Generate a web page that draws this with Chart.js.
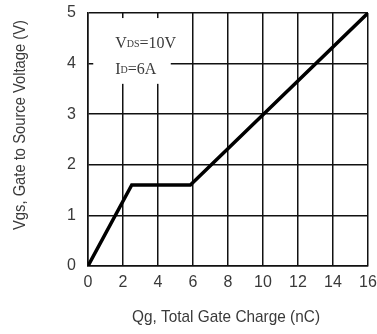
<!DOCTYPE html>
<html>
<head>
<meta charset="utf-8">
<script src="https://cdn.jsdelivr.net/npm/chart.js@4/dist/chart.umd.min.js"></script>
<style>
html,body{margin:0;padding:0;background:#fff;}
#wrap{width:377px;height:334px;}
</style>
</head>
<body>
<div id="wrap"><canvas id="c" width="377" height="334"></canvas></div>
<script>
const gateCharge = [0, 2.5, 5.85, 16];
const gateVoltage = [0, 1.6, 1.6, 5];
const xTicks = [0, 2, 4, 6, 8, 10, 12, 14, 16];
const yTicks = [0, 1, 2, 3, 4, 5];
const xTitle = 'Qg, Total Gate Charge (nC)';
const yTitle = 'Vgs, Gate to Source Voltage (V)';
const noteLines = [['V', 'DS', '=10V'], ['I', 'D', '=6A']];

const FONT = '"Liberation Sans", Arial, sans-serif';
const TXT = '#3a3a3a';

const notePlugin = {
  id: 'note',
  beforeDatasetsDraw(chart) {
    const ctx = chart.ctx, xs = chart.scales.x, ys = chart.scales.y;
    const x0 = xs.getPixelForValue(0.3), x1 = xs.getPixelForValue(4.73);
    const y0 = ys.getPixelForValue(4.9), y1 = ys.getPixelForValue(3.6);
    ctx.save();
    ctx.fillStyle = '#fff';
    ctx.fillRect(x0, y0, x1 - x0, y1 - y0);
    ctx.fillStyle = TXT;
    ctx.textBaseline = 'alphabetic';
    const bases = [ys.getPixelForValue(4.3), ys.getPixelForValue(3.8)];
    const startX = xs.getPixelForValue(1.55);
    noteLines.forEach((parts, i) => {
      let x = startX;
      ctx.font = '16px "Liberation Serif", "Times New Roman", serif';
      ctx.fillText(parts[0], x, bases[i]);
      x += ctx.measureText(parts[0]).width;
      ctx.font = '10px "Liberation Serif", "Times New Roman", serif';
      ctx.fillText(parts[1], x, bases[i] - 1);
      x += ctx.measureText(parts[1]).width;
      ctx.font = '16px "Liberation Serif", "Times New Roman", serif';
      ctx.fillText(parts[2], x, bases[i]);
    });
    ctx.restore();
  }
};

function condensedText(ctx, text, cx, cy, targetW, rot) {
  ctx.save();
  ctx.font = '17px ' + FONT;
  ctx.fillStyle = TXT;
  ctx.textAlign = 'center';
  ctx.textBaseline = 'middle';
  const w = ctx.measureText(text).width;
  ctx.translate(cx, cy);
  if (rot) ctx.rotate(-Math.PI / 2);
  ctx.scale(targetW / w, 1);
  ctx.fillText(text, 0, 0);
  ctx.restore();
}

const titlePlugin = {
  id: 'titles',
  afterDraw(chart) {
    const ctx = chart.ctx;
    condensedText(ctx, xTitle, 226, 317, 188, false);
    condensedText(ctx, yTitle, 20, 125, 210, true);
  }
};

new Chart(document.getElementById('c'), {
  type: 'scatter',
  data: {
    datasets: [{
      data: gateCharge.map((q, i) => ({x: q, y: gateVoltage[i]})),
      showLine: true,
      borderColor: '#000',
      borderWidth: 3.5,
      pointRadius: 0,
      fill: false,
      tension: 0
    }]
  },
  options: {
    responsive: false,
    animation: false,
    layout: {padding: {top: 13, right: 9, left: 0, bottom: 0}},
    plugins: {legend: {display: false}, tooltip: {enabled: false}},
    scales: {
      x: {
        type: 'linear', min: 0, max: 16,
        afterBuildTicks: s => { s.ticks = xTicks.map(v => ({value: v})); },
        afterFit: s => { s.height = 68; s.paddingLeft = 0; s.paddingRight = 0; },
        grid: {color: '#111', lineWidth: 1.5, drawTicks: false},
        border: {color: '#111', width: 1.5},
        ticks: {color: TXT, font: {family: FONT, size: 16}, padding: 7, maxRotation: 0, autoSkip: false},
        title: {display: false}
      },
      y: {
        type: 'linear', min: 0, max: 5,
        afterBuildTicks: s => { s.ticks = yTicks.map(v => ({value: v})); },
        afterFit: s => { s.width = 88; s.paddingTop = 0; s.paddingBottom = 0; },
        grid: {color: '#111', lineWidth: 1.5, drawTicks: false},
        border: {color: '#111', width: 1.5},
        ticks: {color: TXT, font: {family: FONT, size: 16}, padding: 12},
        title: {display: false}
      }
    }
  },
  plugins: [notePlugin, titlePlugin]
});
</script>
</body>
</html>
